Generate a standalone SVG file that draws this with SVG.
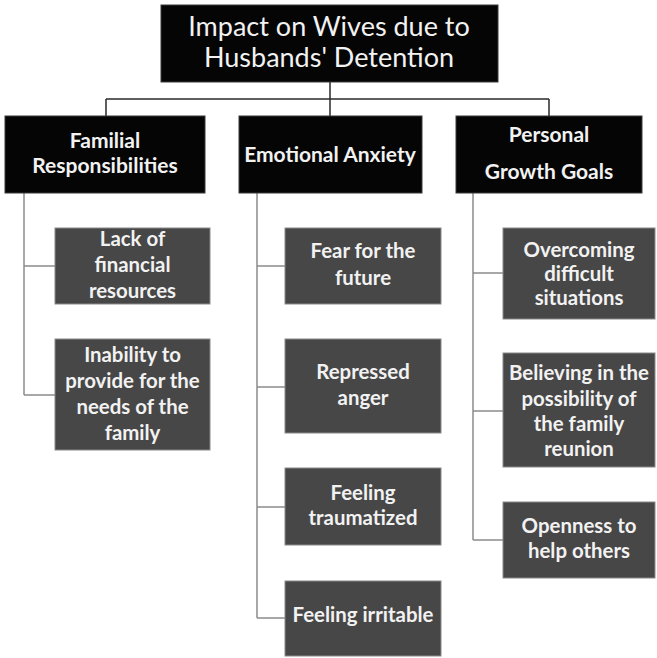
<svg xmlns="http://www.w3.org/2000/svg" width="657" height="658" viewBox="0 0 657 658">
<style>
.top{fill:#050505;stroke:#3a3a3a;stroke-width:1}
.sub{fill:#474747;stroke:#8a8a8a;stroke-width:1}
.t{font-family:Lato,"Liberation Sans",sans-serif;fill:#f2f2f2;text-anchor:middle}
.t0{font-size:27px}
.t1{font-size:21px;font-weight:bold}
.t2{font-size:20.4px;font-weight:bold}
.c1{stroke:#2a2a2a;stroke-width:1.5;fill:none}
.c2{stroke:#8c8c8c;stroke-width:1.5;fill:none}
</style>
<rect width="657" height="658" fill="#ffffff"/>
<g id="connectors">
<path class="c1" d="M330 82V116M106 99H549M106 99V116M549 99V116"/>
<path class="c2" d="M24 193V395M24 266H55M24 395H55"/>
<path class="c2" d="M257 193V618M257 266H285M257 387H285M257 507H285M257 618H285"/>
<path class="c2" d="M473 193V540M473 273H503M473 411H503M473 540H503"/>
</g>
<g id="root">
<rect class="top" x="161" y="5" width="337" height="77"/>
<text class="t t0" x="329" y="36">Impact on Wives due to</text>
<text class="t t0" x="329" y="67">Husbands' Detention</text>
</g>
<g id="familial">
<rect class="top" x="5" y="116" width="200" height="77"/>
<text class="t t1" x="105" y="148">Familial</text>
<text class="t t1" x="105" y="173">Responsibilities</text>
</g>
<g id="emotional">
<rect class="top" x="239" y="116" width="183" height="77"/>
<text class="t t1" x="330" y="162">Emotional Anxiety</text>
</g>
<g id="personal">
<rect class="top" x="456" y="116" width="186" height="77"/>
<text class="t t1" x="549" y="142">Personal</text>
<text class="t t1" x="549" y="179">Growth Goals</text>
</g>
<g id="lack">
<rect class="sub" x="55" y="228" width="155" height="76"/>
<text class="t t2" x="132.5" y="246">Lack of</text>
<text class="t t2" x="132.5" y="272">financial</text>
<text class="t t2" x="132.5" y="298">resources</text>
</g>
<g id="inability">
<rect class="sub" x="55" y="339" width="155" height="111"/>
<text class="t t2" x="132.5" y="362">Inability to</text>
<text class="t t2" x="132.5" y="388">provide for the</text>
<text class="t t2" x="132.5" y="414">needs of the</text>
<text class="t t2" x="132.5" y="440">family</text>
</g>
<g id="fear">
<rect class="sub" x="285" y="228" width="156" height="76"/>
<text class="t t2" x="363" y="258">Fear for the</text>
<text class="t t2" x="363" y="285">future</text>
</g>
<g id="repressed">
<rect class="sub" x="285" y="339" width="156" height="94"/>
<text class="t t2" x="363" y="379">Repressed</text>
<text class="t t2" x="363" y="405">anger</text>
</g>
<g id="traumatized">
<rect class="sub" x="285" y="468" width="156" height="77"/>
<text class="t t2" x="363" y="500">Feeling</text>
<text class="t t2" x="363" y="525">traumatized</text>
</g>
<g id="irritable">
<rect class="sub" x="285" y="581" width="156" height="75"/>
<text class="t t2" x="363" y="622">Feeling irritable</text>
</g>
<g id="overcoming">
<rect class="sub" x="503" y="228" width="152" height="91"/>
<text class="t t2" x="579" y="257">Overcoming</text>
<text class="t t2" x="579" y="281">difficult</text>
<text class="t t2" x="579" y="305">situations</text>
</g>
<g id="believing">
<rect class="sub" x="503" y="353" width="152" height="114"/>
<text class="t t2" x="579" y="380">Believing in the</text>
<text class="t t2" x="579" y="406">possibility of</text>
<text class="t t2" x="579" y="431">the family</text>
<text class="t t2" x="579" y="456">reunion</text>
</g>
<g id="openness">
<rect class="sub" x="503" y="502" width="152" height="76"/>
<text class="t t2" x="579" y="533">Openness to</text>
<text class="t t2" x="579" y="558">help others</text>
</g>
</svg>
